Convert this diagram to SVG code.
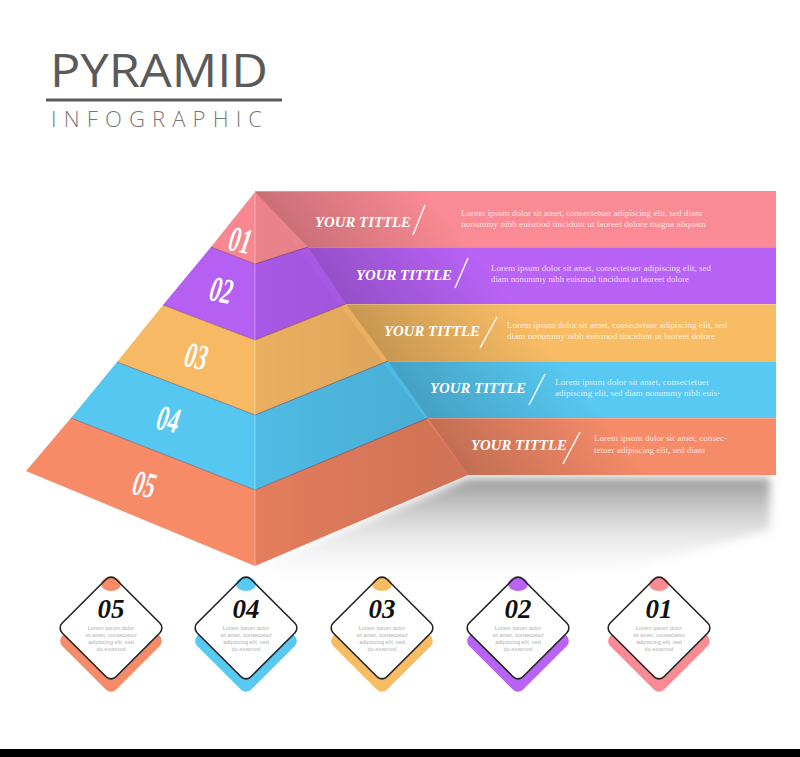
<svg xmlns="http://www.w3.org/2000/svg" width="800" height="757" viewBox="0 0 800 757">
<defs>
<style>
.num{font-family:"Liberation Serif",serif;font-weight:bold;font-style:italic;fill:#fff;font-size:36px;text-anchor:middle}
.tt{font-family:"Liberation Serif",serif;font-weight:bold;font-style:italic;fill:#fff;font-size:15px}
.lo{font-family:"Liberation Serif",serif;fill:#fff;fill-opacity:0.78;font-size:9px}
.sl{stroke:#fff;stroke-width:1.4;fill:none}
.dn{font-family:"Liberation Serif",serif;font-weight:bold;font-style:italic;fill:#111;font-size:27px;text-anchor:middle}
.dl{font-family:"Liberation Sans",sans-serif;fill:#b0b0b0;font-size:5.6px;text-anchor:middle}
.dia{fill:none;stroke:#222;stroke-width:1.6}
.bd{fill:none;stroke:#5a2a4a;stroke-opacity:0.45;stroke-width:1}
</style>
<linearGradient id="fold" gradientUnits="userSpaceOnUse" x1="362" y1="333" x2="470" y2="247">
<stop offset="0" stop-color="#000" stop-opacity="0.2"/>
<stop offset="1" stop-color="#000" stop-opacity="0"/>
</linearGradient>
<linearGradient id="rf" gradientUnits="userSpaceOnUse" x1="255" y1="0" x2="440" y2="0">
<stop offset="0" stop-color="#000" stop-opacity="0"/>
<stop offset="1" stop-color="#000" stop-opacity="0.08"/>
</linearGradient>
<linearGradient id="sh" x1="0" y1="0" x2="0" y2="1">
<stop offset="0" stop-color="#777" stop-opacity="0.75"/>
<stop offset="1" stop-color="#fff" stop-opacity="0"/>
</linearGradient>
<filter id="blur" x="-20%" y="-20%" width="140%" height="140%"><feGaussianBlur stdDeviation="5"/></filter>
</defs>

<rect x="0" y="0" width="800" height="757" fill="#fff"/>

<g id="title">
<text x="50" y="87" font-family="'Open Sans',sans-serif" font-size="45" fill="#5a5a5a" textLength="218" lengthAdjust="spacingAndGlyphs">PYRAMID</text>
<line x1="46" y1="100" x2="282" y2="100" stroke="#5a5a5a" stroke-width="3"/>
<text x="51" y="127" font-family="'Open Sans',sans-serif" font-weight="300" font-size="22" fill="#777" textLength="211" lengthAdjust="spacing">INFOGRAPHIC</text>
</g>

<g id="shadow">
<polygon points="262,566 468,478 770,478 770,530 640,565 460,592 300,590" fill="url(#sh)" filter="url(#blur)"/>
</g>

<g id="bands">
<rect x="255" y="191" width="521" height="57" fill="#FA8A93"/>
<rect x="255" y="247" width="521" height="58" fill="#B862F6"/>
<rect x="255" y="304" width="521" height="58" fill="#F8BC65"/>
<rect x="255" y="361" width="521" height="58" fill="#57C9F3"/>
<rect x="255" y="418" width="521" height="57" fill="#F58B69"/>
<polygon points="255,192 468,475 776,475 776,191" fill="url(#fold)"/>
<line x1="255" y1="247.5" x2="776" y2="247.5" stroke="#fff" stroke-opacity="0.25"/>
<line x1="255" y1="304.5" x2="776" y2="304.5" stroke="#fff" stroke-opacity="0.25"/>
<line x1="255" y1="361.5" x2="776" y2="361.5" stroke="#fff" stroke-opacity="0.25"/>
<line x1="255" y1="418.5" x2="776" y2="418.5" stroke="#fff" stroke-opacity="0.25"/>
</g>

<g id="right-face">
<polygon points="255,192 308,247 255,264" fill="#EB838B"/>
<polygon points="255,264 308,247 346,304 255,340" fill="#A858E5"/>
<polygon points="255,340 346,304 388,361 255,415" fill="#EBAF60"/>
<polygon points="255,415 388,361 428,418 255,490" fill="#4FBBE5"/>
<polygon points="255,490 428,418 468,475 255,566" fill="#E37D5D"/>
<polygon points="255,192 468,475 255,566" fill="url(#rf)"/>
<polyline class="bd" points="255,264 308,247"/>
<polyline class="bd" points="255,340 346,304"/>
<polyline class="bd" points="255,415 388,361"/>
<polyline class="bd" points="255,490 428,418"/>
</g>

<g id="left-face">
<polygon points="255,192 211,247 255,264" fill="#F8878F"/>
<polygon points="211,247 255,264 255,340 163,305" fill="#B660F3"/>
<polygon points="163,305 255,340 255,415 117,362" fill="#F7B963"/>
<polygon points="117,362 255,415 255,490 71,418" fill="#55C7F1"/>
<polygon points="71,418 255,490 255,566 26,471" fill="#F78A67"/>
<polyline class="bd" points="211,247 255,264"/>
<polyline class="bd" points="163,305 255,340"/>
<polyline class="bd" points="117,362 255,415"/>
<polyline class="bd" points="71,418 255,490"/>
<line x1="255" y1="192" x2="255" y2="566" stroke="#fff" stroke-opacity="0.35" stroke-width="1"/>
</g>

<g id="layer-numbers">
<text class="num" transform="translate(238,252) rotate(12) scale(0.62,1)">01</text>
<text class="num" transform="translate(219,302) rotate(12) scale(0.62,1)">02</text>
<text class="num" transform="translate(194,368) rotate(12) scale(0.62,1)">03</text>
<text class="num" transform="translate(166,431) rotate(12) scale(0.62,1)">04</text>
<text class="num" transform="translate(142,496) rotate(12) scale(0.62,1)">05</text>
</g>

<g id="band1">
<text class="tt" x="315" y="227" textLength="96" lengthAdjust="spacingAndGlyphs">YOUR TITTLE</text>
<line class="sl" x1="425" y1="205" x2="413" y2="235"/>
<text class="lo" x="461" y="216" textLength="241" lengthAdjust="spacingAndGlyphs">Lorem ipsum dolor sit amet, consectetuer adipiscing elit, sed diam</text>
<text class="lo" x="461" y="227" textLength="245" lengthAdjust="spacingAndGlyphs">nonummy nibh euismod tincidunt ut laoreet dolore magna aliquam</text>
</g>
<g id="band2">
<text class="tt" x="356" y="280" textLength="96" lengthAdjust="spacingAndGlyphs">YOUR TITTLE</text>
<line class="sl" x1="468" y1="258" x2="455" y2="288"/>
<text class="lo" x="491" y="271" textLength="220" lengthAdjust="spacingAndGlyphs">Lorem ipsum dolor sit amet, consectetuer adipiscing elit, sed</text>
<text class="lo" x="491" y="282" textLength="198" lengthAdjust="spacingAndGlyphs">diam nonummy nibh euismod tincidunt ut laoreet dolore</text>
</g>
<g id="band3">
<text class="tt" x="384" y="336" textLength="96" lengthAdjust="spacingAndGlyphs">YOUR TITTLE</text>
<line class="sl" x1="497" y1="317" x2="480" y2="348"/>
<text class="lo" x="507" y="328" textLength="220" lengthAdjust="spacingAndGlyphs">Lorem ipsum dolor sit amet, consectetuer adipiscing elit, sed</text>
<text class="lo" x="507" y="339" textLength="208" lengthAdjust="spacingAndGlyphs">diam nonummy nibh euismod tincidunt ut laoreet dolore</text>
</g>
<g id="band4">
<text class="tt" x="430" y="393" textLength="96" lengthAdjust="spacingAndGlyphs">YOUR TITTLE</text>
<line class="sl" x1="545" y1="374" x2="529" y2="405"/>
<text class="lo" x="555" y="385" textLength="154" lengthAdjust="spacingAndGlyphs">Lorem ipsum dolor sit amet, consectetuer</text>
<text class="lo" x="555" y="396" textLength="165" lengthAdjust="spacingAndGlyphs">adipiscing elit, sed diam nonummy nibh euis-</text>
</g>
<g id="band5">
<text class="tt" x="471" y="450" textLength="96" lengthAdjust="spacingAndGlyphs">YOUR TITTLE</text>
<line class="sl" x1="580" y1="432" x2="563" y2="464"/>
<text class="lo" x="594" y="441" textLength="133" lengthAdjust="spacingAndGlyphs">Lorem ipsum dolor sit amet, consec-</text>
<text class="lo" x="594" y="453" textLength="111" lengthAdjust="spacingAndGlyphs">tetuer adipiscing elit, sed diam</text>
</g>

<g id="card05" transform="translate(111,628)">
<rect x="-38" y="-38" width="76" height="76" rx="7" transform="translate(0,13) rotate(45)" fill="#F58B69"/>
<rect x="-38" y="-38" width="76" height="76" rx="7" transform="rotate(45)" fill="#fff"/>
<ellipse cx="0" cy="-44" rx="10" ry="7" fill="#F58B69"/>
<rect class="dia" x="-38" y="-38" width="76" height="76" rx="7" transform="rotate(45)"/>
<text class="dn" x="0" y="-10">05</text>
<text class="dl" x="0" y="2">Lorem ipsum dolor</text>
<text class="dl" x="0" y="9">sit amet, consectetur</text>
<text class="dl" x="0" y="16">adipiscing elit, sed</text>
<text class="dl" x="0" y="23">do eiusmod</text>
</g>
<g id="card04" transform="translate(246,628)">
<rect x="-38" y="-38" width="76" height="76" rx="7" transform="translate(0,13) rotate(45)" fill="#57C9F3"/>
<rect x="-38" y="-38" width="76" height="76" rx="7" transform="rotate(45)" fill="#fff"/>
<ellipse cx="0" cy="-44" rx="10" ry="7" fill="#57C9F3"/>
<rect class="dia" x="-38" y="-38" width="76" height="76" rx="7" transform="rotate(45)"/>
<text class="dn" x="0" y="-10">04</text>
<text class="dl" x="0" y="2">Lorem ipsum dolor</text>
<text class="dl" x="0" y="9">sit amet, consectetur</text>
<text class="dl" x="0" y="16">adipiscing elit, sed</text>
<text class="dl" x="0" y="23">do eiusmod</text>
</g>
<g id="card03" transform="translate(382,628)">
<rect x="-38" y="-38" width="76" height="76" rx="7" transform="translate(0,13) rotate(45)" fill="#F8BC65"/>
<rect x="-38" y="-38" width="76" height="76" rx="7" transform="rotate(45)" fill="#fff"/>
<ellipse cx="0" cy="-44" rx="10" ry="7" fill="#F8BC65"/>
<rect class="dia" x="-38" y="-38" width="76" height="76" rx="7" transform="rotate(45)"/>
<text class="dn" x="0" y="-10">03</text>
<text class="dl" x="0" y="2">Lorem ipsum dolor</text>
<text class="dl" x="0" y="9">sit amet, consectetur</text>
<text class="dl" x="0" y="16">adipiscing elit, sed</text>
<text class="dl" x="0" y="23">do eiusmod</text>
</g>
<g id="card02" transform="translate(518,628)">
<rect x="-38" y="-38" width="76" height="76" rx="7" transform="translate(0,13) rotate(45)" fill="#B862F6"/>
<rect x="-38" y="-38" width="76" height="76" rx="7" transform="rotate(45)" fill="#fff"/>
<ellipse cx="0" cy="-44" rx="10" ry="7" fill="#B862F6"/>
<rect class="dia" x="-38" y="-38" width="76" height="76" rx="7" transform="rotate(45)"/>
<text class="dn" x="0" y="-10">02</text>
<text class="dl" x="0" y="2">Lorem ipsum dolor</text>
<text class="dl" x="0" y="9">sit amet, consectetur</text>
<text class="dl" x="0" y="16">adipiscing elit, sed</text>
<text class="dl" x="0" y="23">do eiusmod</text>
</g>
<g id="card01" transform="translate(659,628)">
<rect x="-38" y="-38" width="76" height="76" rx="7" transform="translate(0,13) rotate(45)" fill="#FA8A93"/>
<rect x="-38" y="-38" width="76" height="76" rx="7" transform="rotate(45)" fill="#fff"/>
<ellipse cx="0" cy="-44" rx="10" ry="7" fill="#FA8A93"/>
<rect class="dia" x="-38" y="-38" width="76" height="76" rx="7" transform="rotate(45)"/>
<text class="dn" x="0" y="-10">01</text>
<text class="dl" x="0" y="2">Lorem ipsum dolor</text>
<text class="dl" x="0" y="9">sit amet, consectetur</text>
<text class="dl" x="0" y="16">adipiscing elit, sed</text>
<text class="dl" x="0" y="23">do eiusmod</text>
</g>

<rect x="0" y="749" width="800" height="8" fill="#000"/>
</svg>
